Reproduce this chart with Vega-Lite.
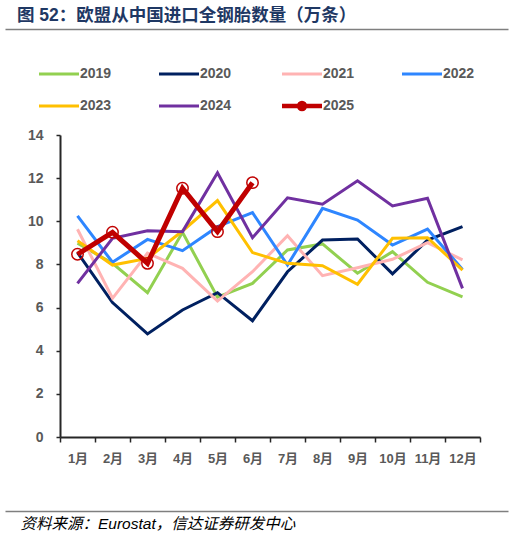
{
  "$schema": "https://vega.github.io/schema/vega-lite/v6.json",
  "width": 420,
  "height": 302,
  "autosize": {"type": "none"},
  "padding": {"left": 60, "top": 135, "right": 33, "bottom": 101},
  "background": "white",
  "title": {
    "text": "图 52：欧盟从中国进口全钢胎数量（万条）",
    "anchor": "start",
    "frame": "group",
    "orient": "top",
    "dx": -43,
    "dy": 17,
    "offset": 4,
    "baseline": "bottom",
    "font": "'Liberation Sans', 'Noto Sans CJK SC'",
    "fontSize": 17.5,
    "fontWeight": "bold",
    "color": "#1F3864"
  },
  "data": {
    "values": [
      {"year": "2019", "month": "1月", "value": 8.98}, {"year": "2019", "month": "2月", "value": 8.05}, {"year": "2019", "month": "3月", "value": 6.69}, {"year": "2019", "month": "4月", "value": 9.49}, {"year": "2019", "month": "5月", "value": 6.48}, {"year": "2019", "month": "6月", "value": 7.12}, {"year": "2019", "month": "7月", "value": 8.67}, {"year": "2019", "month": "8月", "value": 8.95}, {"year": "2019", "month": "9月", "value": 7.59}, {"year": "2019", "month": "10月", "value": 8.59}, {"year": "2019", "month": "11月", "value": 7.17}, {"year": "2019", "month": "12月", "value": 6.50},
      {"year": "2020", "month": "1月", "value": 8.55}, {"year": "2020", "month": "2月", "value": 6.23}, {"year": "2020", "month": "3月", "value": 4.78}, {"year": "2020", "month": "4月", "value": 5.89}, {"year": "2020", "month": "5月", "value": 6.69}, {"year": "2020", "month": "6月", "value": 5.39}, {"year": "2020", "month": "7月", "value": 7.66}, {"year": "2020", "month": "8月", "value": 9.13}, {"year": "2020", "month": "9月", "value": 9.18}, {"year": "2020", "month": "10月", "value": 7.56}, {"year": "2020", "month": "11月", "value": 9.13}, {"year": "2020", "month": "12月", "value": 9.75},
      {"year": "2021", "month": "1月", "value": 9.63}, {"year": "2021", "month": "2月", "value": 6.43}, {"year": "2021", "month": "3月", "value": 8.52}, {"year": "2021", "month": "4月", "value": 7.82}, {"year": "2021", "month": "5月", "value": 6.30}, {"year": "2021", "month": "6月", "value": 7.66}, {"year": "2021", "month": "7月", "value": 9.33}, {"year": "2021", "month": "8月", "value": 7.48}, {"year": "2021", "month": "9月", "value": 7.85}, {"year": "2021", "month": "10月", "value": 8.24}, {"year": "2021", "month": "11月", "value": 9.01}, {"year": "2021", "month": "12月", "value": 8.21},
      {"year": "2022", "month": "1月", "value": 10.25}, {"year": "2022", "month": "2月", "value": 8.10}, {"year": "2022", "month": "3月", "value": 9.16}, {"year": "2022", "month": "4月", "value": 8.64}, {"year": "2022", "month": "5月", "value": 9.75}, {"year": "2022", "month": "6月", "value": 10.40}, {"year": "2022", "month": "7月", "value": 7.97}, {"year": "2022", "month": "8月", "value": 10.60}, {"year": "2022", "month": "9月", "value": 10.06}, {"year": "2022", "month": "10月", "value": 8.90}, {"year": "2022", "month": "11月", "value": 9.64}, {"year": "2022", "month": "12月", "value": 7.77},
      {"year": "2023", "month": "1月", "value": 9.10}, {"year": "2023", "month": "2月", "value": 7.97}, {"year": "2023", "month": "3月", "value": 8.28}, {"year": "2023", "month": "4月", "value": 9.55}, {"year": "2023", "month": "5月", "value": 10.96}, {"year": "2023", "month": "6月", "value": 8.55}, {"year": "2023", "month": "7月", "value": 8.05}, {"year": "2023", "month": "8月", "value": 7.94}, {"year": "2023", "month": "9月", "value": 7.08}, {"year": "2023", "month": "10月", "value": 9.21}, {"year": "2023", "month": "11月", "value": 9.24}, {"year": "2023", "month": "12月", "value": 7.74},
      {"year": "2024", "month": "1月", "value": 7.12}, {"year": "2024", "month": "2月", "value": 9.21}, {"year": "2024", "month": "3月", "value": 9.56}, {"year": "2024", "month": "4月", "value": 9.52}, {"year": "2024", "month": "5月", "value": 12.25}, {"year": "2024", "month": "6月", "value": 9.24}, {"year": "2024", "month": "7月", "value": 11.09}, {"year": "2024", "month": "8月", "value": 10.79}, {"year": "2024", "month": "9月", "value": 11.88}, {"year": "2024", "month": "10月", "value": 10.71}, {"year": "2024", "month": "11月", "value": 11.07}, {"year": "2024", "month": "12月", "value": 6.89},
      {"year": "2025", "month": "1月", "value": 8.47}, {"year": "2025", "month": "2月", "value": 9.49}, {"year": "2025", "month": "3月", "value": 8.05}, {"year": "2025", "month": "4月", "value": 11.53}, {"year": "2025", "month": "5月", "value": 9.52}, {"year": "2025", "month": "6月", "value": 11.79}
    ]
  },
  "layer": [
    {
      "layer": [
        {
          "mark": {"type": "line", "strokeJoin": "miter"},
          "encoding": {
            "x": {
              "field": "month", "type": "ordinal",
              "sort": ["1月","2月","3月","4月","5月","6月","7月","8月","9月","10月","11月","12月"],
              "bandPosition": 0.5,
              "scale": {"type": "band", "paddingInner": 0, "paddingOuter": 0},
              "axis": {
                "title": null, "labelAngle": 0, "tickBand": "extent",
                "labelFont": "'Liberation Sans', 'Noto Sans CJK SC'", "labelFontSize": 13, "labelFontWeight": "bold", "labelColor": "#595959",
                "labelPadding": 10, "tickSize": 5, "tickWidth": 1.5, "tickColor": "#262626",
                "domainColor": "#262626", "domainWidth": 2, "grid": false
              }
            },
            "y": {
              "field": "value", "type": "quantitative",
              "scale": {"domain": [0, 14], "nice": false, "zero": true},
              "axis": {
                "title": null, "values": [0, 2, 4, 6, 8, 10, 12, 14], "grid": false,
                "labelFont": "'Liberation Sans', 'Noto Sans CJK SC'", "labelFontSize": 14, "labelFontWeight": "bold", "labelColor": "#595959",
                "labelPadding": 13, "tickSize": 4, "tickWidth": 1.5, "tickColor": "#262626",
                "domainColor": "#262626", "domainWidth": 2
              }
            },
            "color": {
              "field": "year", "type": "nominal",
              "scale": {
                "domain": ["2019","2020","2021","2022","2023","2024","2025"],
                "range": ["#92D050","#002060","#FFB3B3","#2E86FF","#FFC000","#7030A0","#C00000"]
              },
              "legend": {
                "title": null, "orient": "none", "legendX": -18, "legendY": -68,
                "direction": "horizontal", "columns": 4, "columnPadding": 41, "rowPadding": 13,
                "symbolType": "M-1,0H3", "symbolSize": 400, "symbolStrokeWidth": 3,
                "labelFont": "'Liberation Sans', 'Noto Sans CJK SC'", "labelFontSize": 14, "labelFontWeight": "bold", "labelColor": "#595959",
                "labelOffset": 24, "padding": 0,
                "encode": {
                  "symbols": {
                    "update": {
                      "strokeWidth": {"signal": "datum.value == '2025' ? 4.5 : 3"},
                      "shape": {"signal": "datum.value == '2025' ? 'M-1,0H3M1.3,0A0.3,0.3,0,1,1,0.7,0A0.3,0.3,0,1,1,1.3,0' : 'M-1,0H3'"}
                    }
                  }
                }
              }
            },
            "strokeWidth": {"condition": {"test": "datum.year == '2025'", "value": 5}, "value": 3}
          }
        },
        {
          "transform": [{"filter": "datum.year == '2025'"}],
          "mark": {"type": "point", "shape": "circle", "filled": false, "size": 130, "strokeWidth": 1.5, "color": "#C00000", "opacity": 1},
          "encoding": {
            "x": {
              "field": "month", "type": "ordinal",
              "sort": ["1月","2月","3月","4月","5月","6月","7月","8月","9月","10月","11月","12月"],
              "bandPosition": 0.5,
              "scale": {"type": "band", "paddingInner": 0, "paddingOuter": 0}
            },
            "y": {"field": "value", "type": "quantitative"}
          }
        }
      ]
    },
    {
      "mark": {"type": "point", "opacity": 0},
      "encoding": {
        "x": {
          "field": "value", "type": "quantitative",
          "scale": {"domain": [0, 20], "range": [-55, 448], "nice": false, "zero": false},
          "axis": {
            "orient": "top", "offset": 106, "title": null, "labels": false, "ticks": false, "grid": false,
            "domain": true, "domainOpacity": 1, "domainColor": "#7F7F7F", "domainWidth": 1.5
          }
        }
      }
    },
    {
      "mark": {"type": "point", "opacity": 0},
      "encoding": {
        "x": {
          "field": "value", "type": "quantitative",
          "scale": {"domain": [0, 20], "range": [-55, 448], "nice": false, "zero": false},
          "axis": {
            "orient": "bottom", "offset": 74, "labels": false, "ticks": false, "grid": false,
            "domain": true, "domainOpacity": 1, "domainColor": "#7F7F7F", "domainWidth": 1.5,
            "title": "资料来源：Eurostat，信达证券研发中心",
            "titleX": -40, "titleY": 12, "titleAlign": "left", "titleAnchor": "start", "titleBaseline": "middle",
            "titleFont": "'Liberation Sans', 'Noto Sans CJK SC'", "titleFontSize": 15.5, "titleFontStyle": "italic", "titleFontWeight": "normal", "titleColor": "#000000"
          }
        }
      }
    }
  ],
  "resolve": {"scale": {"x": "independent"}, "axis": {"x": "independent"}},
  "config": {"view": {"stroke": null}}
}
